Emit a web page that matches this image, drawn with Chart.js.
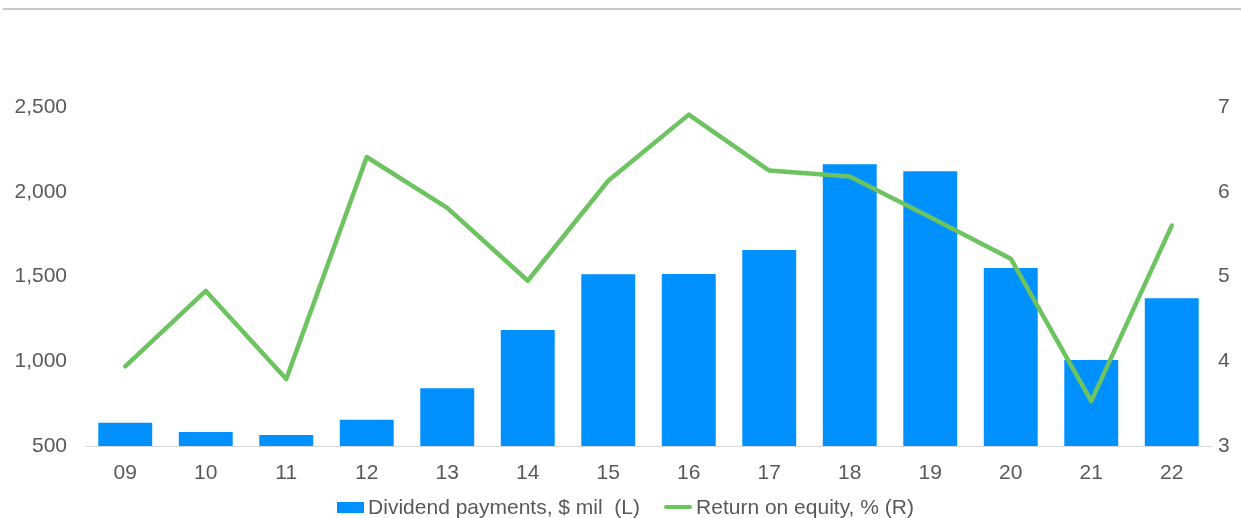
<!DOCTYPE html>
<html>
<head>
<meta charset="utf-8">
<script src="https://cdn.jsdelivr.net/npm/chart.js@4.4.1/dist/chart.umd.min.js"></script>
<style>
  html, body { margin: 0; padding: 0; background: #ffffff; }
  #wrap { position: relative; width: 1241px; height: 518px; overflow: hidden; }
  #topline { position: absolute; left: 3px; right: 0; top: 8px; height: 2px; background: #c8c8c8; }
  #chart { position: absolute; left: 0; top: 0; }
  #legend { position: absolute; left: 5px; width: 1241px; top: 495px; height: 24px;
    display: flex; justify-content: center; align-items: center;
    font-family: "Liberation Sans", Arial, sans-serif; font-size: 21px; color: #595959; white-space: pre; }
  .item { display: flex; align-items: center; }
  .box { width: 27px; height: 11px; background: #0091FF; margin-right: 4px; }
  .ln { width: 28px; height: 4px; border-radius: 2px; background: #6CC360; margin-right: 4px; }
</style>
</head>
<body>
<div id="wrap">
  <div id="topline"></div>
  <canvas id="chart" width="1241" height="518"></canvas>
  <div id="legend">
    <div class="item" style="margin-right:24px"><span class="box"></span><span id="lab0"></span></div>
    <div class="item"><span class="ln"></span><span id="lab1"></span></div>
  </div>
</div>
<script>
const categories = ["09","10","11","12","13","14","15","16","17","18","19","20","21","22"];
const dividendPayments = [637, 583, 565, 655, 840, 1184, 1513, 1515, 1656, 2162, 2121, 1550, 1007, 1371];
const returnOnEquity = [3.94, 4.83, 3.79, 6.41, 5.81, 4.95, 6.13, 6.91, 6.25, 6.18, 5.70, 5.21, 3.53, 5.60];
const leftTicks = [500, 1000, 1500, 2000, 2500];
const rightTicks = [3, 4, 5, 6, 7];
const seriesNames = ["Dividend payments, $ mil  (L)", "Return on equity, % (R)"];

document.getElementById('lab0').textContent = seriesNames[0];
document.getElementById('lab1').textContent = seriesNames[1];

const tickFont = { family: "'Liberation Sans', Arial, sans-serif", size: 21 };
const tickColor = '#595959';

new Chart(document.getElementById('chart'), {
  data: {
    labels: categories,
    datasets: [
      {
        type: 'line',
        label: seriesNames[1],
        data: returnOnEquity,
        yAxisID: 'yR',
        borderColor: '#6CC360',
        backgroundColor: '#6CC360',
        borderWidth: 4.5,
        pointRadius: 0,
        tension: 0,
        borderCapStyle: 'round',
        borderJoinStyle: 'round',
        order: 0
      },
      {
        type: 'bar',
        label: seriesNames[0],
        data: dividendPayments,
        yAxisID: 'yL',
        backgroundColor: '#0091FF',
        borderWidth: 0,
        categoryPercentage: 1.0,
        barPercentage: 0.67,
        order: 1
      }
    ]
  },
  options: {
    responsive: false,
    animation: false,
    layout: { padding: { top: 107, left: 0, right: 0, bottom: 0 } },
    plugins: { legend: { display: false }, tooltip: { enabled: false } },
    scales: {
      x: {
        grid: { display: false, drawTicks: false },
        border: { display: true, color: '#d9d9d9', width: 1 },
        ticks: { font: tickFont, color: tickColor, padding: 15 },
        afterFit: (s) => { s.height = 72; }
      },
      yL: {
        position: 'left',
        min: 500, max: 2500,
        grid: { display: false, drawTicks: false },
        border: { display: false },
        afterBuildTicks: (s) => { s.ticks = leftTicks.map(v => ({ value: v })); },
        ticks: { font: tickFont, color: tickColor, padding: 18,
          callback: (v) => Number(v).toLocaleString('en-US') },
        afterFit: (s) => { s.width = 85; }
      },
      yR: {
        position: 'right',
        min: 3, max: 7,
        grid: { display: false, drawTicks: false },
        border: { display: false },
        afterBuildTicks: (s) => { s.ticks = rightTicks.map(v => ({ value: v })); },
        ticks: { font: tickFont, color: tickColor, padding: 6 },
        afterFit: (s) => { s.width = 29; }
      }
    }
  }
});
</script>
</body>
</html>
